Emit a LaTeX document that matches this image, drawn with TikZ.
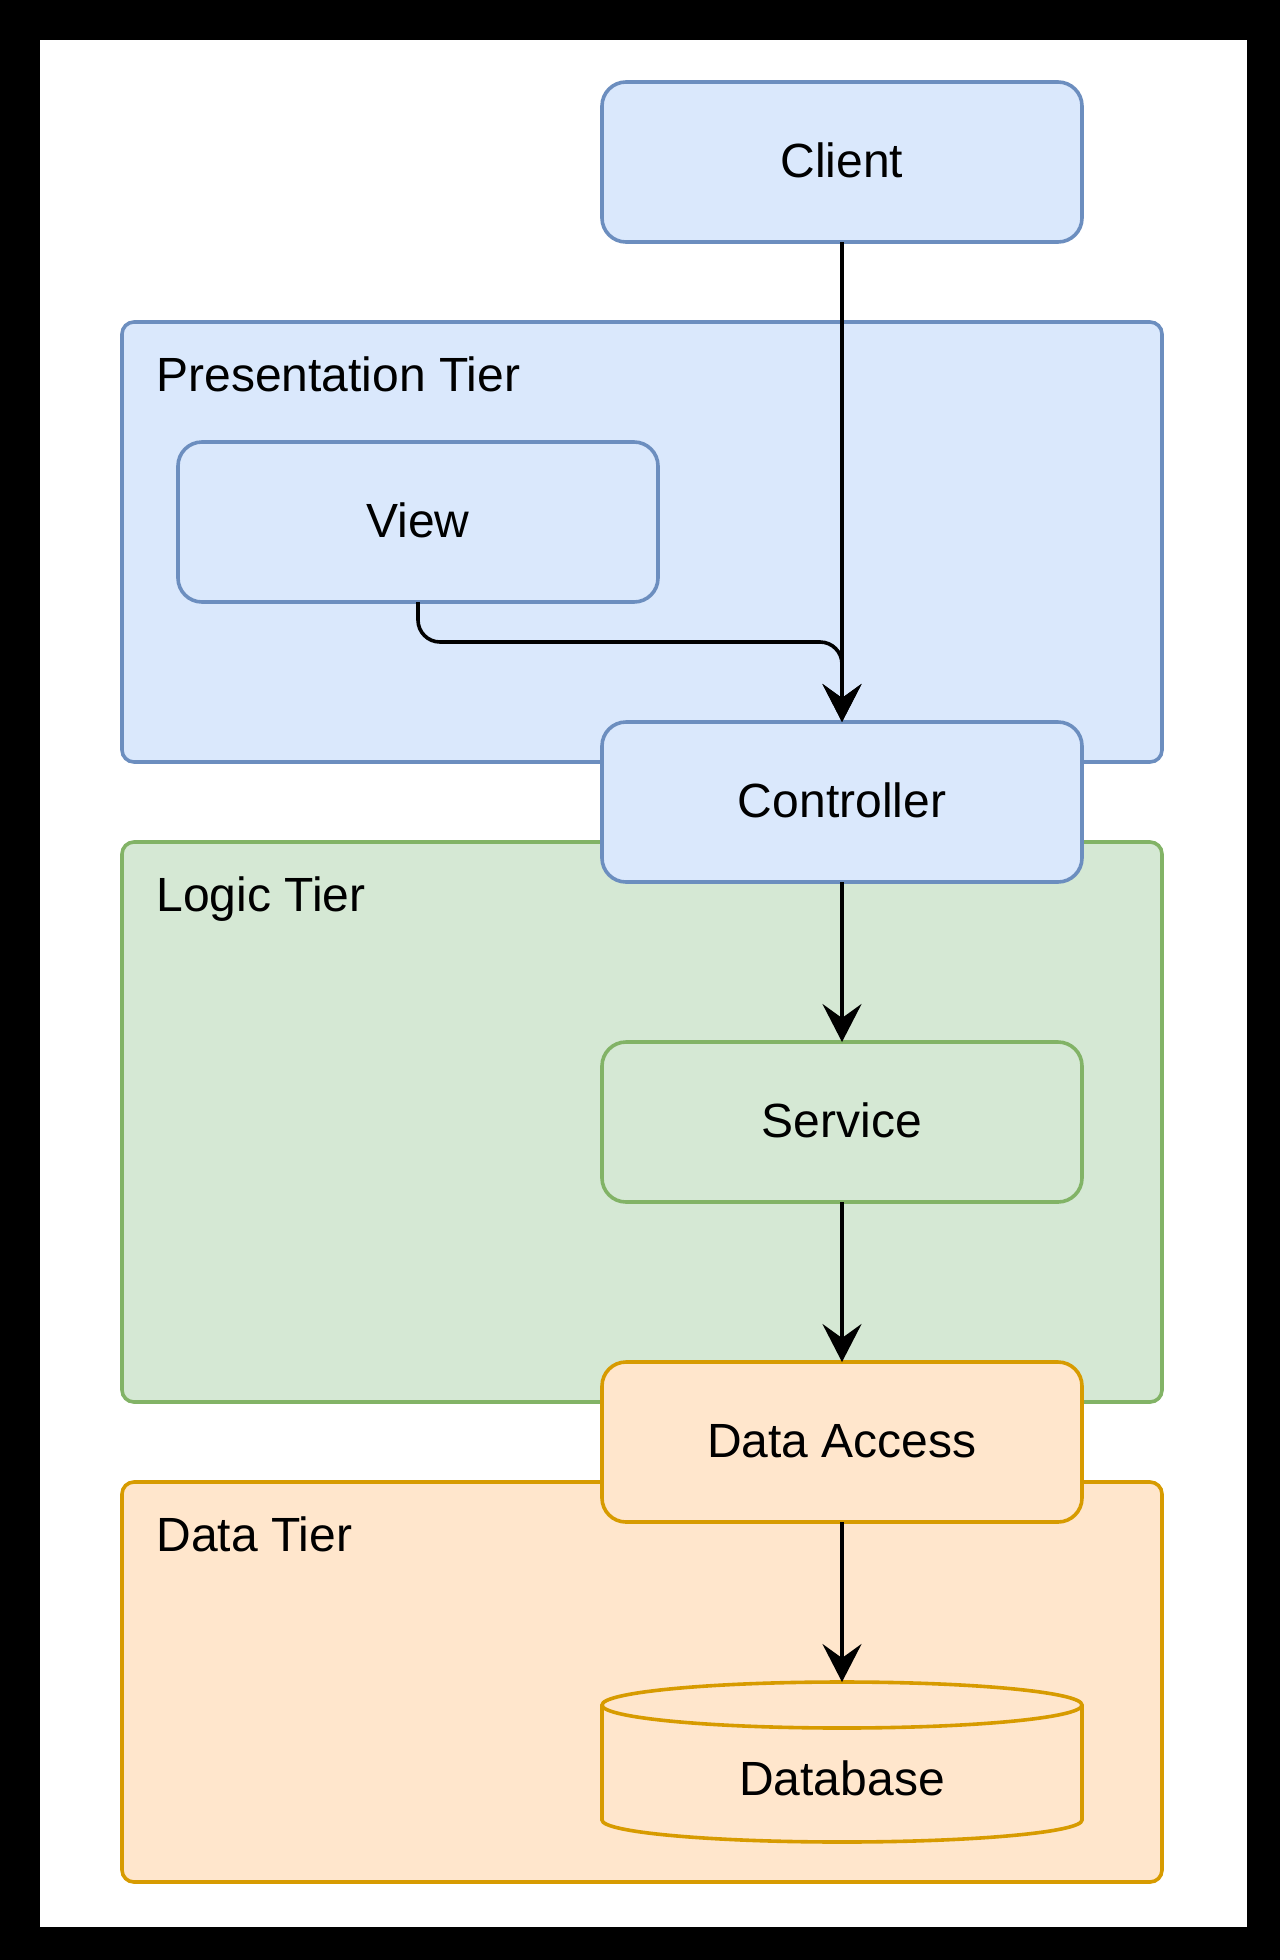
\documentclass[tikz,border=0pt]{standalone}
\usepackage{fontspec}
\setmainfont{Liberation Sans}
\usetikzlibrary{arrows.meta}
\definecolor{blueF}{HTML}{DAE8FC}
\definecolor{blueS}{HTML}{6C8EBF}
\definecolor{greenF}{HTML}{D5E8D4}
\definecolor{greenS}{HTML}{82B366}
\definecolor{orangeF}{HTML}{FFE6CC}
\definecolor{orangeS}{HTML}{D79B00}
\tikzset{
  tier/.style={rectangle, rounded corners=6pt, line width=1.8pt, minimum width=520pt, inner sep=0pt, outer sep=0pt},
  box/.style={rectangle, rounded corners=12pt, line width=1.8pt, minimum width=240pt, minimum height=80pt,
              inner sep=0pt, outer sep=0pt, text height=15pt, text depth=0pt, font=\fontsize{24}{28.8}\selectfont},
  tiertitle/.style={anchor=base west, inner sep=0pt, font=\fontsize{24}{28.8}\selectfont},
  bluebox/.style={box, fill=blueF, draw=blueS},
  greenbox/.style={box, fill=greenF, draw=greenS},
  orangebox/.style={box, fill=orangeF, draw=orangeS},
  flow/.style={line width=1.8pt, -{Stealth[length=19pt, width=19.5pt, inset=7pt]}},
}
\begin{document}
\begin{tikzpicture}[x=0.5pt, y=-0.5pt]
\useasboundingbox (0,0) rectangle (1280,1960);
\fill[black] (0,0) rectangle (1280,1960);
\fill[white] (40,40) rectangle (1247,1927);

% tiers
\node[tier, fill=blueF, draw=blueS, minimum height=220pt] (pres) at (642,542) {};
\node[tier, fill=greenF, draw=greenS, minimum height=280pt] (logic) at (642,1122) {};
\node[tier, fill=orangeF, draw=orangeS, minimum height=200pt] (data) at (642,1682) {};
\node[tiertitle] (prest) at (156,391) {Presentation Tier};
\node[tiertitle] (logict) at (156,911) {Logic Tier};
\node[tiertitle] (datat) at (156,1551) {Data Tier};

% boxes
\node[bluebox] (client) at (842,162) {Client};
\node[bluebox] (view) at (418,522) {View};
\node[bluebox] (ctrl) at (842,802) {Controller};
\node[greenbox] (svc) at (842,1122) {Service};
\node[orangebox] (dacc) at (842,1442) {Data Access};

% database cylinder
\node[rectangle, minimum width=240pt, minimum height=80pt, inner sep=0pt, outer sep=0pt] (db) at (842,1762) {};
\filldraw[fill=orangeF, draw=orangeS, line width=1.8pt]
  ([yshift=-11.5pt]db.north west) arc[start angle=180, end angle=0, x radius=120pt, y radius=11.5pt]
  -- ([yshift=11pt]db.south east) arc[start angle=0, end angle=-180, x radius=120pt, y radius=11pt] -- cycle;
\draw[draw=orangeS, line width=1.8pt]
  ([yshift=-11.5pt]db.north west) arc[start angle=180, end angle=360, x radius=120pt, y radius=11.5pt];
\node[inner sep=0pt, anchor=base, font=\fontsize{24}{28.8}\selectfont] (dbt) at (842,1795) {Database};

% connectors
\draw[flow] (client) -- (ctrl);
\draw[flow, rounded corners=11pt] (view.south) -- ++(0,40) -| (ctrl.north);
\draw[flow] (ctrl) -- (svc);
\draw[flow] (svc) -- (dacc);
\draw[flow] (dacc) -- (db.north);
\end{tikzpicture}
\end{document}
